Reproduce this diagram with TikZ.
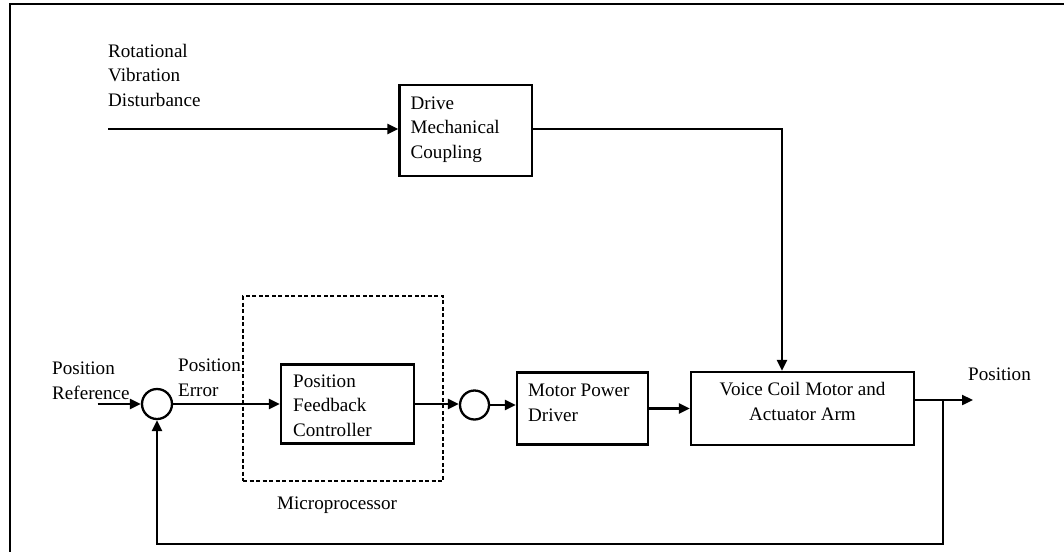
\documentclass[tikz,border=0pt]{standalone}
\usepackage{fontspec}
\setmainfont{Liberation Serif}
\usetikzlibrary{arrows.meta,calc}
\tikzset{
  lbl/.style={font=\fontsize{19.1pt}{24.5pt}\selectfont, inner sep=0pt, align=left, anchor=base west},
  lblc/.style={font=\fontsize{19.1pt}{24.5pt}\selectfont, inner sep=0pt, align=center, anchor=base},
  blk/.style={draw, line width=2.3pt, rectangle, inner sep=0pt},
  sumc/.style={draw, line width=2.3pt, circle, inner sep=0pt},
  dbox/.style={draw, line width=1.8pt, dash pattern=on 4pt off 2.5pt, rectangle, inner sep=0pt},
  arr/.style={line width=2.3pt, -{Triangle[length=11pt,width=10pt]}},
  ln/.style={line width=2.3pt}
}
\begin{document}
\begin{tikzpicture}[x=1pt,y=-1pt]
\useasboundingbox (0,0) rectangle (1064,552);
% frame
\draw[line width=1.3pt] (1064,4) -- (10,4) -- (10,552);

% blocks
\node[blk, minimum width=132.5pt, minimum height=91pt] (drive) at (465.75,130.5) {};
\node[dbox, minimum width=200pt, minimum height=185pt] (micro) at (343,388.5) {};
\node[blk, minimum width=133pt, minimum height=79pt] (pfc) at (347.5,404) {};
\node[blk, minimum width=131pt, minimum height=72pt] (motor) at (582.5,408.5) {};
\node[blk, minimum width=223pt, minimum height=73pt] (vcm) at (802.5,408.5) {};
\node[sumc, minimum size=30pt] (c1) at (157,404) {};
\node[sumc, minimum size=29pt] (c2) at (474.5,405) {};

% texts (anchored at the baseline of the last line)
\node[lbl] (tdist) at (108,106) {Rotational\\Vibration\\Disturbance};
\node[lbl] (tdrive) at (410.5,158) {Drive\\Mechanical\\Coupling};
\node[lbl] (tref) at (52,399) {Position\\Reference};
\node[lbl] (terr) at (178,396) {Position\\Error};
\node[lbl] (tpfc) at (293,436) {Position\\Feedback\\Controller};
\node[lbl] (tmotor) at (528,421) {Motor Power\\Driver};
\node[lblc] (tvcm) at (802.5,420) {Voice Coil Motor and\\Actuator Arm};
\node[lbl] (tpos) at (968,380) {Position};
\node[lbl] (tmicro) at (277,509) {Microprocessor};

% connectors
\coordinate (distin) at (108,129);
\coordinate (vtop) at (782,129);
\coordinate (refin) at (97.5,404);
\coordinate (outtip) at (973,400);
\coordinate (fb) at (943,400);
\coordinate (fbbot) at (943,544);

\draw[arr] (distin) -- (distin -| drive.west);
\draw[arr] (drive.east |- vtop) -- (vtop) -- (vtop |- vcm.north);
\draw[arr] (refin) -- (c1.west);
\draw[arr] (c1.east) -- (c1.east -| pfc.west);
\draw[arr] (pfc.east) -- (pfc.east -| c2.west);
\draw[arr] (c2.east) -- (c2.east -| motor.west);
\draw[arr] (motor.east) -- (vcm.west);
\draw[arr] (vcm.east |- outtip) -- (outtip);
\draw[arr] (fb) -- (fbbot) -| (c1.south);
\end{tikzpicture}
\end{document}
